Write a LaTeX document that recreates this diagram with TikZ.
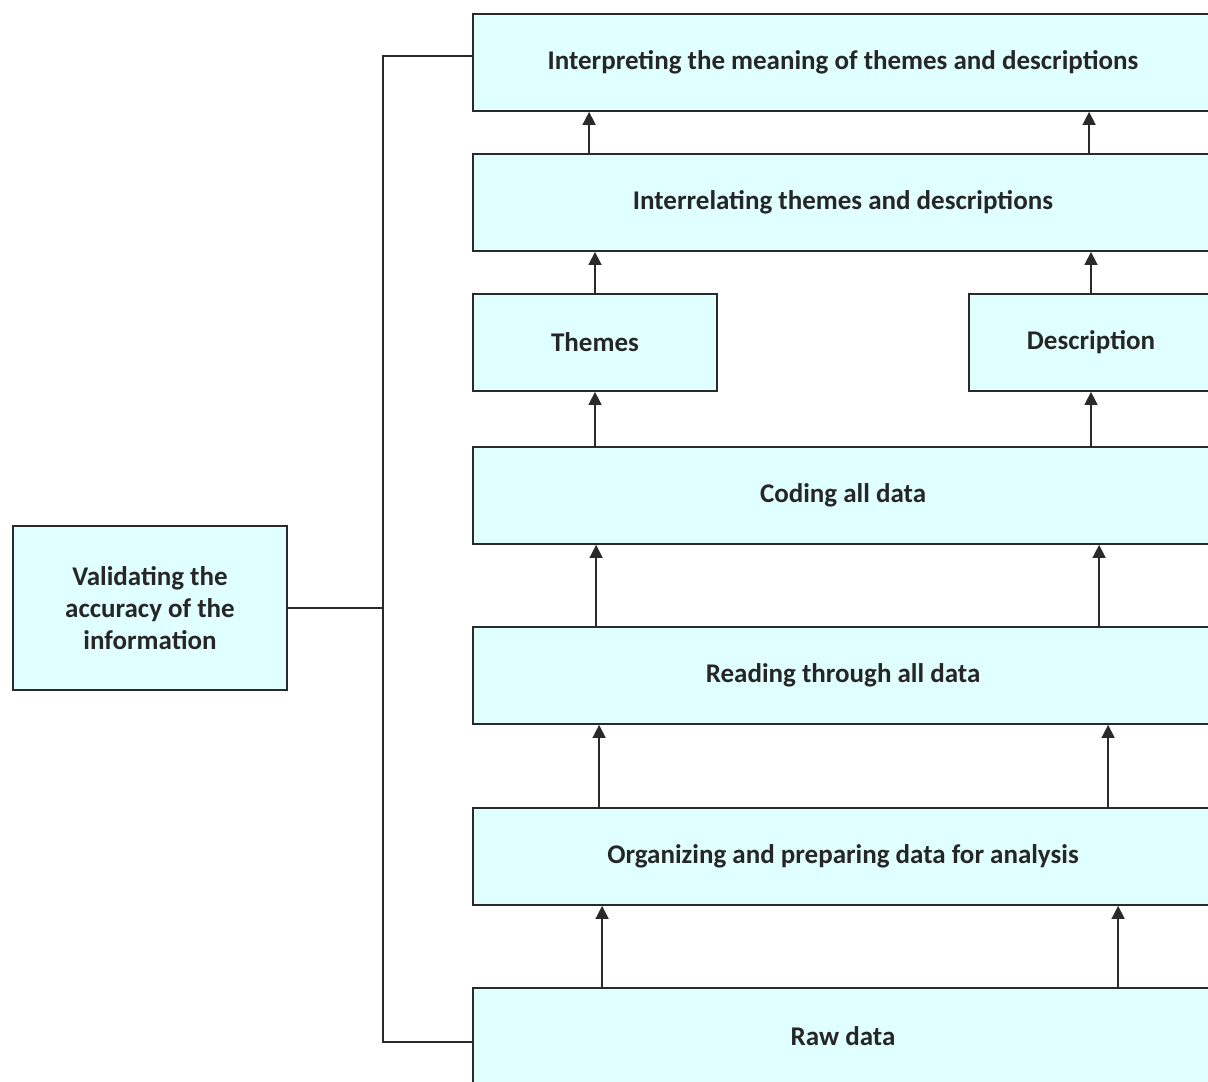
\documentclass[tikz,border=0pt]{standalone}
\usepackage{fontspec}
\setmainfont{Carlito}
\usetikzlibrary{arrows.meta,calc}
\definecolor{boxfill}{HTML}{E0FFFF}
\definecolor{edge}{HTML}{2A2A2A}
\tikzset{
  stagebox/.style={draw=edge, line width=1.8pt, fill=boxfill, rectangle, inner sep=0pt,
    font=\fontsize{27}{32}\selectfont\bfseries, text=black!85},
  wide/.style={stagebox, minimum width=740pt, minimum height=97pt},
  half/.style={stagebox, minimum width=244pt, minimum height=97pt},
  arr/.style={draw=edge, line width=1.6pt, -{Triangle[length=13pt,width=13pt]}},
  link/.style={draw=edge, line width=1.6pt},
}
\begin{document}
\begin{tikzpicture}[x=1pt,y=-1pt]
\clip (0,0) rectangle (1208,1082);
\fill[white] (0,0) rectangle (1208,1082);
\node[wide] (b1) at (843,62.5) {Interpreting the meaning of themes and descriptions};
\node[wide] (b2) at (843,202.5) {Interrelating themes and descriptions};
\node[half] (th) at (595,342.5) {Themes};
\node[half] (de) at (1091,342.5) {Description};
\node[wide] (cod) at (843,495.5) {Coding all data};
\node[wide] (rea) at (843,675.5) {Reading through all data};
\node[wide] (org) at (843,856.5) {Organizing and preparing data for analysis};
\node[wide] (raw) at (843,1036.5) {Raw data};
\node[stagebox, minimum width=274pt, minimum height=164pt, align=center,
  font=\fontsize{27}{32}\selectfont\bfseries] (val) at (150,608)
  {Validating the\\accuracy of the\\information};
\coordinate (bus) at (383,608);
% arrows
\draw[arr] ([xshift=117pt]b2.north west) -- ([xshift=117pt]b1.south west);
\draw[arr] ([xshift=617pt]b2.north west) -- ([xshift=617pt]b1.south west);
\draw[arr] (th.north) -- (th.north |- b2.south);
\draw[arr] (de.north) -- (de.north |- b2.south);
\draw[arr] (cod.north -| th.south) -- (th.south);
\draw[arr] (cod.north -| de.south) -- (de.south);
\draw[arr] ([xshift=124pt]rea.north west) -- ([xshift=124pt]cod.south west);
\draw[arr] ([xshift=627pt]rea.north west) -- ([xshift=627pt]cod.south west);
\draw[arr] ([xshift=127pt]org.north west) -- ([xshift=127pt]rea.south west);
\draw[arr] ([xshift=636pt]org.north west) -- ([xshift=636pt]rea.south west);
\draw[arr] ([xshift=130pt]raw.north west) -- ([xshift=130pt]org.south west);
\draw[arr] ([xshift=646pt]raw.north west) -- ([xshift=646pt]org.south west);
% validation bus
\draw[link] ([yshift=6.5pt]b1.west) -| (bus) |- ([yshift=-5.5pt]raw.west);
\draw[link] (val.east) -- (bus);
\end{tikzpicture}
\end{document}
